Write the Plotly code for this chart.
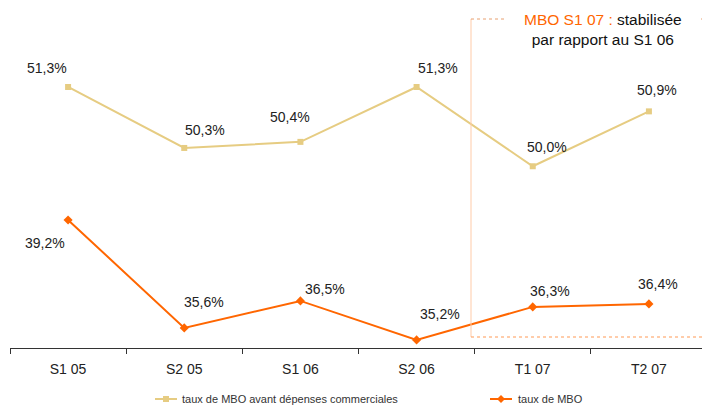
import plotly.graph_objects as go

categories = ["S1 05", "S2 05", "S1 06", "S2 06", "T1 07", "T2 07"]
mbo_avant = [51.3, 50.3, 50.4, 51.3, 50.0, 50.9]
mbo = [39.2, 35.6, 36.5, 35.2, 36.3, 36.4]
labels_avant = ["51,3%", "50,3%", "50,4%", "51,3%", "50,0%", "50,9%"]
labels_mbo = ["39,2%", "35,6%", "36,5%", "35,2%", "36,3%", "36,4%"]
legend_names = ["taux de MBO avant dépenses commerciales", "taux de MBO"]

BEIGE = "#E6CC82"
ORANGE = "#FF6600"
FONT = "Liberation Sans"

# the page body has an 8px margin; figure coordinates = page coordinates - 8
OFF = 8
FW, FH = 710 - OFF, 405 - OFF
# plot area in page pixels
L, R, T, B = 10, 707, 8, 348
W, H = R - L, B - T


def px(x):
    return (x - L) / W


def py(y):
    return (B - y) / H


fig = go.Figure()
fig.add_trace(go.Scatter(
    x=categories, y=mbo_avant, mode="lines+markers", name=legend_names[0],
    line=dict(color=BEIGE, width=2), marker=dict(symbol="square", size=6, color=BEIGE),
    yaxis="y"))
fig.add_trace(go.Scatter(
    x=categories, y=mbo, mode="lines+markers", name=legend_names[1],
    line=dict(color=ORANGE, width=2), marker=dict(symbol="diamond", size=7, color=ORANGE),
    yaxis="y2"))

off_avant = [(-21, 19), (21, 18), (-10, 25), (21, 19), (14, 19), (8, 21)]
off_mbo = [(-23, -23), (20, 26), (25, 12), (23, 26), (17, 16), (9, 20)]
for i, c in enumerate(categories):
    dx, dy = off_avant[i]
    fig.add_annotation(x=c, y=mbo_avant[i], yref="y", text=labels_avant[i], showarrow=False,
                       xshift=dx, yshift=dy, font=dict(size=14, color="#222", family=FONT))
    dx, dy = off_mbo[i]
    fig.add_annotation(x=c, y=mbo[i], yref="y2", text=labels_mbo[i], showarrow=False,
                       xshift=dx, yshift=dy, font=dict(size=14, color="#222", family=FONT))

# highlight frame
fig.add_shape(type="line", xref="paper", yref="paper", x0=px(471), x1=px(471),
              y0=py(337), y1=py(19), line=dict(color="#FFCBA8", width=1))
fig.add_shape(type="line", xref="paper", yref="paper", x0=px(471), x1=px(710),
              y0=py(337), y1=py(337), line=dict(color="#FF9955", width=1, dash="dot"))
fig.add_shape(type="line", xref="paper", yref="paper", x0=px(471), x1=px(506),
              y0=py(19), y1=py(19), line=dict(color="#E8A070", width=1, dash="dot"))
fig.add_shape(type="line", xref="paper", yref="paper", x0=px(701), x1=px(710),
              y0=py(19), y1=py(19), line=dict(color="#E8A070", width=1, dash="dot"))

fig.add_annotation(xref="paper", yref="paper", x=px(603), y=py(29), xanchor="center", yanchor="middle",
                   text="<span style='color:#FF6600'>MBO S1 07 :</span> stabilisée<br>par rapport au S1 06",
                   showarrow=False, align="center",
                   font=dict(size=15.5, color="#111", family=FONT))

# manual legend
leg_y = py(399)
for (x0, x1, col, sym, tx), name in zip(
        [(155, 177, BEIGE, "square", 180), (490, 512, ORANGE, "diamond", 516)], legend_names):
    fig.add_shape(type="line", xref="paper", yref="paper", x0=px(x0), x1=px(x1), y0=leg_y, y1=leg_y,
                  line=dict(color=col, width=2))
    xm = px((x0 + x1) / 2)
    if sym == "square":
        fig.add_shape(type="rect", xref="paper", yref="paper", xsizemode="pixel", ysizemode="pixel",
                      xanchor=xm, yanchor=leg_y, x0=-3, x1=3, y0=-3, y1=3,
                      fillcolor=col, line=dict(width=0))
    else:
        fig.add_shape(type="path", xref="paper", yref="paper", xsizemode="pixel", ysizemode="pixel",
                      xanchor=xm, yanchor=leg_y, path="M -4 0 L 0 4 L 4 0 L 0 -4 Z",
                      fillcolor=col, line=dict(width=0))
    fig.add_annotation(xref="paper", yref="paper", x=px(tx), y=leg_y, xanchor="left", yanchor="middle",
                       text=name, showarrow=False, font=dict(size=11, color="#333", family=FONT))

fig.update_layout(
    width=FW, height=FH,
    margin=dict(l=L - OFF, r=FW - (R - OFF), t=T - OFF, b=FH - (B - OFF), autoexpand=False),
    paper_bgcolor="white", plot_bgcolor="white",
    font=dict(family=FONT, color="#222"),
    showlegend=False,
    xaxis=dict(type="category", range=[-0.5, 5.5], showline=True, linecolor="#333", linewidth=1,
               ticks="outside", ticklen=5, tickcolor="#333", tickson="boundaries",
               ticklabelstandoff=8,
               showgrid=False, tickfont=dict(size=14, color="#222", family=FONT)),
    yaxis=dict(range=[47.02, 52.595], visible=False, showgrid=False),
    yaxis2=dict(range=[34.93, 46.267], visible=False, showgrid=False, overlaying="y"),
)

fig.write_html("out.html")
